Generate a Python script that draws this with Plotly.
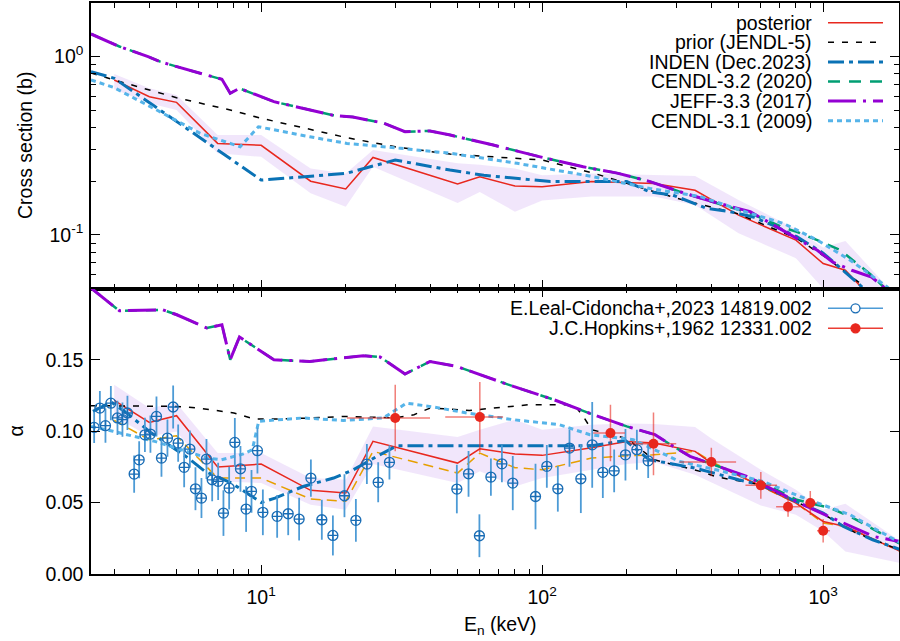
import plotly.graph_objects as go
import numpy as np

# ---------------- DATA ----------------
# top panel: cross section (b)
E_post_top = [3, 4, 5, 7, 10, 15, 20, 25, 50, 60, 80, 100, 150, 200, 250, 350, 500, 800, 1000, 1200, 1800]
post_top = [0.740, 0.596, 0.554, 0.326, 0.318, 0.200, 0.181, 0.272, 0.193, 0.212, 0.188, 0.186, 0.199, 0.197,
            0.194, 0.178, 0.129, 0.0934, 0.069, 0.0633, 0.032]
band_top_hi = [0.80, 0.665, 0.609, 0.363, 0.363, 0.236, 0.221, 0.299, 0.252, 0.247, 0.236, 0.216, 0.221, 0.218,
               0.216, 0.214, 0.157, 0.108, 0.085, 0.0925, 0.046]
band_top_lo = [0.656, 0.547, 0.502, 0.287, 0.274, 0.171, 0.144, 0.241, 0.151, 0.174, 0.135, 0.156, 0.164, 0.164,
               0.164, 0.147, 0.102, 0.074, 0.050, 0.045, 0.025]

E_prior_top = [2.48, 3, 5, 7.76, 10, 15, 20, 30, 47, 100, 152, 200, 240, 336, 493, 805, 1033, 1355, 1900]
prior_top = [0.81, 0.74, 0.588, 0.502, 0.451, 0.388, 0.352, 0.312, 0.284, 0.263, 0.222, 0.195, 0.178, 0.153,
             0.132, 0.0956, 0.0739, 0.0534, 0.030]

E_inden_top = [2.48, 3, 10, 20, 30, 47, 62, 107, 200, 242, 292, 385, 466, 564, 664, 805, 1000, 1180, 1376, 1900]
inden_top = [0.824, 0.756, 0.203, 0.221, 0.263, 0.231, 0.216, 0.199, 0.199, 0.174, 0.167, 0.141, 0.135, 0.126,
             0.113, 0.0977, 0.079, 0.0633, 0.051, 0.030]

E_jeff_top = [2.48, 3.13, 3.96, 4.37, 5.01, 7.25, 7.76, 8.37, 11.1, 14.9, 18, 21.2, 27.2, 32.5, 39.9, 47.1, 67,
              98.4, 140, 185, 242, 318, 420, 550, 721, 805, 953, 1077, 1264, 1487, 1640, 1900]
jeff_top = [1.34, 1.14, 1.0, 0.937, 0.879, 0.746, 0.623, 0.664, 0.559, 0.501, 0.469, 0.458, 0.424, 0.379, 0.383,
            0.363, 0.319, 0.274, 0.241, 0.222, 0.199, 0.172, 0.151, 0.135, 0.106, 0.0956, 0.082, 0.0706, 0.0633,
            0.058, 0.051, 0.044]

E_c32_top = [2.48, 3.13, 3.96, 4.37, 5.01, 7.25, 7.76, 8.37, 11.1, 14.9, 18, 21.2, 27.2, 32.5, 39.9, 47.1, 67,
             98.4, 140, 185, 242, 318, 420, 550, 721, 805, 953, 1150, 1320, 1487, 1640, 1900]
c32_top = [1.34, 1.14, 1.0, 0.937, 0.879, 0.746, 0.623, 0.664, 0.559, 0.501, 0.469, 0.458, 0.424, 0.379, 0.383,
           0.363, 0.319, 0.274, 0.241, 0.222, 0.199, 0.172, 0.151, 0.132, 0.110, 0.104, 0.0934, 0.0821, 0.069,
           0.0594, 0.051, 0.040]

E_c31_top = [2.48, 2.98, 4.14, 6.07, 8.42, 9.78, 14.9, 20.2, 31.3, 47.1, 81.5, 152, 242, 365, 550, 721, 953,
             1248, 1690, 1900]
c31_top = [0.74, 0.673, 0.513, 0.371, 0.312, 0.404, 0.355, 0.326, 0.306, 0.287, 0.252, 0.212, 0.182, 0.164,
           0.132, 0.116, 0.0934, 0.0721, 0.051, 0.043]

# bottom panel: alpha
E_post_bot = [3, 4, 5, 7, 10, 15, 20, 25, 50, 60, 80, 100, 150, 200, 250, 350, 400, 600, 800, 1000, 1200, 1900]
post_bot = [0.1216, 0.1062, 0.1109, 0.0749, 0.0770, 0.0586, 0.0567, 0.0929, 0.0777, 0.0877, 0.0840, 0.0831,
            0.0885, 0.0929, 0.0917, 0.0859, 0.0777, 0.0618, 0.0497, 0.0368, 0.0333, 0.0155]
band_bot_hi = [0.1326, 0.1162, 0.1197, 0.0847, 0.0847, 0.0672, 0.0660, 0.1034, 0.0960, 0.1011, 0.1081, 0.1010,
               0.1046, 0.1055, 0.1050, 0.1029, 0.0950, 0.0730, 0.0590, 0.0450, 0.0492, 0.0225]
band_bot_lo = [0.1104, 0.0964, 0.0999, 0.0649, 0.0637, 0.0485, 0.0450, 0.0770, 0.0637, 0.0719, 0.0613, 0.0672,
               0.0730, 0.0770, 0.0785, 0.0695, 0.0640, 0.0480, 0.0415, 0.0300, 0.0158, 0.0075]
orange_bot = [0.1076, 0.0940, 0.0968, 0.0672, 0.0672, 0.0525, 0.0509, 0.0859, 0.0707, 0.0847, 0.0745, 0.0730,
              0.0812, 0.0828, 0.0835, 0.0859, 0.0789, 0.0613, 0.0497, 0.0357, 0.0333, 0.0155]

E_prior_bot = [2.48, 5, 6, 8, 9.5, 11.5, 15, 20, 30, 35, 40, 55, 90, 130, 140, 150, 200, 250, 365, 420, 600, 800,
               1000, 1300, 1900]
prior_bot = [0.1179, 0.1174, 0.1162, 0.1128, 0.1085, 0.1085, 0.1093, 0.1104, 0.1093, 0.1116, 0.1163, 0.1146,
             0.1186, 0.1186, 0.1104, 0.1011, 0.0950, 0.0800, 0.0719, 0.0679, 0.0625, 0.0505, 0.0420, 0.0290, 0.0165]

E_inden_bot = [2.52, 2.93, 3.32, 4.07, 5.5, 6.31, 7.84, 10.0, 11.2, 14.1, 18.1, 21.3, 25.8, 30.4, 150, 198, 240,
               300, 350, 400, 500, 600, 800, 1000, 1180, 1500, 1900]
inden_bot = [0.1139, 0.1205, 0.1128, 0.0987, 0.0812, 0.0719, 0.0637, 0.0501, 0.0532, 0.0613, 0.0672, 0.0730,
             0.0824, 0.0898, 0.0898, 0.0935, 0.0801, 0.0765, 0.0742, 0.0712, 0.0660, 0.0625, 0.0508, 0.0427,
             0.0333, 0.0240, 0.0168]

E_jeff_bot = [2.48, 3.13, 4.46, 5.01, 6.41, 7.25, 7.76, 8.37, 11.1, 14.9, 23.1, 26.5, 32.5, 39.9, 49.7, 60, 79,
              110, 122, 152, 200, 252, 293, 336, 441, 535, 665, 875, 1149, 1510, 1900]
jeff_bot = [0.2003, 0.1844, 0.1851, 0.1816, 0.1723, 0.1746, 0.1501, 0.1660, 0.1501, 0.1489, 0.1529, 0.1520,
            0.1401, 0.1489, 0.1454, 0.1396, 0.1314, 0.1221, 0.1186, 0.1116, 0.1034, 0.0976, 0.0894, 0.0824,
            0.0742, 0.0684, 0.0590, 0.0473, 0.0368, 0.0263, 0.0225]

E_c32_bot = [2.48, 3.13, 4.46, 5.01, 6.41, 7.25, 7.76, 8.37, 11.1, 14.9, 23.1, 26.5, 32.5, 39.9, 49.7, 60, 79,
             110, 122, 152, 200, 252, 293, 336, 441, 609, 805, 1060, 1280, 1600, 1900]
c32_bot = [0.2003, 0.1844, 0.1851, 0.1816, 0.1723, 0.1746, 0.1501, 0.1660, 0.1501, 0.1489, 0.1529, 0.1520,
           0.1401, 0.1489, 0.1454, 0.1396, 0.1314, 0.1221, 0.1186, 0.1116, 0.1034, 0.0976, 0.0894, 0.0824,
           0.0742, 0.0637, 0.0520, 0.0462, 0.0392, 0.0287, 0.0205]

E_c31_bot = [2.48, 2.97, 4.18, 6.47, 7.22, 8.6, 9.3, 9.8, 14.1, 19.6, 27.2, 32.9, 41.1, 53.9, 79, 115, 148, 211,
             308, 416, 609, 828, 1033, 1248, 1510, 1900]
c31_bot = [0.1034, 0.1000, 0.0929, 0.0812, 0.0800, 0.0840, 0.0870, 0.1070, 0.1093, 0.1076, 0.1093, 0.1197,
           0.1170, 0.1128, 0.1081, 0.1046, 0.0976, 0.0941, 0.0789, 0.0730, 0.0649, 0.0543, 0.0473, 0.0415,
           0.0322, 0.0215]

# experimental data
leal_E = [2.545, 2.667, 2.792, 2.918, 3.081, 3.209, 3.343, 3.532, 3.680, 3.857, 4.036, 4.241, 4.418, 4.640,
          4.862, 5.066, 5.321, 5.576, 5.837, 6.131, 6.388, 6.694, 7.030, 7.342, 7.693, 8.06, 8.44, 8.84, 9.24,
          9.70, 10.14, 11.40, 12.48, 13.65, 15.03, 16.44, 18.00, 19.79, 21.73, 23.78, 26.09, 28.61, 49.7, 54.7,
          59.8, 65.7, 71.9, 78.6, 94.7, 103.9, 113.7, 125.1, 137.3, 150.7, 164.4, 180.4, 197.9, 217.3, 238.4]
leal_a = [0.1027, 0.1162, 0.1039, 0.1197, 0.1093, 0.1081, 0.1128, 0.0700, 0.0800, 0.0975, 0.0980, 0.1104,
          0.0812, 0.0952, 0.1170, 0.0917, 0.0747, 0.0875, 0.0597, 0.0532, 0.0805, 0.0660, 0.0649, 0.0427,
          0.0602, 0.0922, 0.0737, 0.0455, 0.0579, 0.0864, 0.0432, 0.0404, 0.0422, 0.0385, 0.0672, 0.0380,
          0.0270, 0.0548, 0.0376, 0.0770, 0.0642, 0.0782, 0.0595, 0.0702, 0.0268, 0.0679, 0.0772, 0.0637,
          0.0543, 0.0754, 0.0597, 0.0882, 0.0667, 0.0905, 0.0712, 0.0723, 0.0835, 0.0871, 0.0793]
leal_err = [0.011, 0.012, 0.012, 0.012, 0.012, 0.012, 0.012, 0.013, 0.013, 0.012, 0.013, 0.014, 0.013, 0.013,
            0.015, 0.013, 0.014, 0.013, 0.015, 0.014, 0.014, 0.015, 0.013, 0.016, 0.015, 0.017, 0.016, 0.016,
            0.015, 0.016, 0.016, 0.015, 0.015, 0.015, 0.013, 0.014, 0.014, 0.015, 0.015, 0.014, 0.014, 0.012,
            0.017, 0.016, 0.015, 0.013, 0.013, 0.019, 0.023, 0.015, 0.016, 0.013, 0.024, 0.030, 0.018, 0.015,
            0.018, 0.014, 0.012]

hop_E = [30, 60, 175, 249, 400, 600, 750, 900, 1000]
hop_a = [0.1093, 0.1100, 0.0987, 0.0912, 0.0784, 0.0621, 0.0471, 0.0497, 0.0303]
hop_err = [0.0233, 0.0245, 0.0198, 0.0220, 0.0100, 0.0093, 0.0070, 0.0084, 0.0082]
hop_Eplus = [9.9, 12.6, 22, 51, 90, 85, 76, 50, 56]
hop_Eminus = [9.8, 14.8, 23, 44, 91, 71, 70, 34, 49]

legend_top = ["posterior", "prior (JENDL-5)", "INDEN (Dec.2023)", "CENDL-3.2 (2020)", "JEFF-3.3 (2017)",
              "CENDL-3.1 (2009)"]
legend_bot = ["E.Leal-Cidoncha+,2023 14819.002", "J.C.Hopkins+,1962 12331.002"]

# ---------------- STYLE ----------------
FONT = "Liberation Sans, Arial, sans-serif"
FS = 19.5
C_RED = "#e8281e"
C_BLK = "#000000"
C_IND = "#0a72b5"
C_GRN = "#009e73"
C_PUR = "#9400d3"
C_SKY = "#56b4e9"
C_ORG = "#e69f00"
C_BAND = "rgba(190,140,235,0.22)"

st_post = dict(color=C_RED, width=1.5)
st_prior = dict(color=C_BLK, width=1.5, dash="6px,8px")
st_ind = dict(color=C_IND, width=3, dash="16px,5px,4px,5px")
st_c32 = dict(color=C_GRN, width=2.5, dash="12px,9px")
st_jeff = dict(color=C_PUR, width=3, dash="28px,7px,3px,7px")
st_c31 = dict(color=C_SKY, width=3, dash="5px,4px")
st_org = dict(color=C_ORG, width=1.5, dash="10px,6px")

L, R, T, B = 91, 899, 3, 574
W, H = 900, 641

fig = go.Figure()


def band(E, lo, hi, xa, ya):
    fig.add_trace(go.Scatter(x=list(E) + list(E)[::-1], y=list(hi) + list(lo)[::-1], fill="toself",
                             fillcolor=C_BAND, line=dict(width=0), mode="lines", hoverinfo="skip",
                             showlegend=False, xaxis=xa, yaxis=ya))


def line(E, v, st, xa, ya):
    fig.add_trace(go.Scatter(x=E, y=v, mode="lines", line=st, showlegend=False, xaxis=xa, yaxis=ya))


# top panel
band(E_post_top, band_top_lo, band_top_hi, "x", "y")
line(E_post_top, post_top, st_post, "x", "y")
line(E_prior_top, prior_top, st_prior, "x", "y")
line(E_inden_top, inden_top, st_ind, "x", "y")
line(E_c32_top, c32_top, st_c32, "x", "y")
line(E_jeff_top, jeff_top, st_jeff, "x", "y")
line(E_c31_top, c31_top, st_c31, "x", "y")

# bottom panel
band(E_post_bot, band_bot_lo, band_bot_hi, "x2", "y2")
line(E_post_bot, orange_bot, st_org, "x2", "y2")
line(E_post_bot, post_bot, st_post, "x2", "y2")
line(E_prior_bot, prior_bot, st_prior, "x2", "y2")
line(E_inden_bot, inden_bot, st_ind, "x2", "y2")
line(E_c32_bot, c32_bot, st_c32, "x2", "y2")
line(E_jeff_bot, jeff_bot, st_jeff, "x2", "y2")
line(E_c31_bot, c31_bot, st_c31, "x2", "y2")

fig.add_trace(go.Scatter(x=leal_E, y=leal_a, mode="markers", xaxis="x2", yaxis="y2", showlegend=False,
                         marker=dict(symbol="circle-cross-open", size=10, color="#1a6db5",
                                     line=dict(width=1.3, color="#1a6db5")),
                         error_y=dict(type="data", array=leal_err, color="#4d9bd6", thickness=1.8, width=0)))
fig.add_trace(go.Scatter(x=hop_E, y=hop_a, mode="markers", xaxis="x2", yaxis="y2", showlegend=False,
                         marker=dict(symbol="circle", size=10, color=C_RED),
                         error_y=dict(type="data", array=hop_err, color="rgba(232,40,30,0.6)", thickness=1.5,
                                      width=0),
                         error_x=dict(type="data", symmetric=False, array=hop_Eplus, arrayminus=hop_Eminus,
                                      color="rgba(232,40,30,0.6)", thickness=1.5, width=0)))

# ---------------- AXES ----------------
xmin = np.log10(2.48)
xmax = xmin + (R - L) / 281.0
minor_x = [v * d for d in (1, 10, 100) for v in range(2, 10) if 2.48 <= v * d <= 1900]
minor_y_top = [0.06, 0.07, 0.08, 0.09] + [0.1 * k for k in range(2, 10)] + [2.0]

common_ax = dict(showline=True, linecolor="black", linewidth=1.5, mirror="ticks", ticks="inside",
                 tickcolor="black", tickwidth=1, showgrid=False, zeroline=False, automargin=False,
                 tickfont=dict(family=FONT, size=FS, color="black"))

fig.update_layout(
    width=W, height=H, plot_bgcolor="white", paper_bgcolor="white",
    margin=dict(l=L, r=W - R, t=T, b=H - B, pad=0, autoexpand=False),
    showlegend=False,
    font=dict(family=FONT, size=FS, color="black"),
    xaxis=dict(type="log", range=[xmin, xmax], domain=[0, 1], anchor="y", matches="x2",
               tickvals=[10, 100, 1000], showticklabels=False, ticklen=9,
               minor=dict(tickvals=minor_x, ticks="inside", ticklen=5, tickcolor="black"), **common_ax),
    xaxis2=dict(type="log", range=[xmin, xmax], domain=[0, 1], anchor="y2",
                tickvals=[10, 100, 1000], ticktext=["10<sup>1</sup>", "10<sup>2</sup>", "10<sup>3</sup>"],
                ticklen=9, ticklabelstandoff=5,
                minor=dict(tickvals=minor_x, ticks="inside", ticklen=5, tickcolor="black"),
                **common_ax),
    yaxis=dict(type="log", range=[np.log10(0.05), np.log10(2.0)], domain=[0.5, 1], anchor="x",
               tickvals=[0.1, 1.0], ticktext=["10<sup>-1</sup>", "10<sup>0</sup>"], ticklen=9,
               ticklabelstandoff=2,
               minor=dict(tickvals=minor_y_top, ticks="inside", ticklen=5, tickcolor="black"), **common_ax),
    yaxis2=dict(range=[0, 0.2], domain=[0, 0.5], anchor="x2", tickvals=[0, 0.05, 0.10, 0.15],
                ticktext=["0.00", "0.05", "0.10", "0.15"], ticklen=9, ticklabelstandoff=2, **common_ax),
)


def px(xp):
    return (xp - L) / (R - L)


def py(yp):
    return (B - yp) / (B - T)


ann = []
shapes = []
# axis titles
ann.append(dict(text="Cross section (b)", x=px(25), y=py(146), xref="paper", yref="paper", textangle=-90,
                showarrow=False, xanchor="center", yanchor="middle", font=dict(family=FONT, size=FS)))
ann.append(dict(text="α", x=px(15.5), y=py(431), xref="paper", yref="paper", textangle=-90,
                showarrow=False, xanchor="center", yanchor="middle", font=dict(family=FONT, size=FS)))
ann.append(dict(text="E<sub>n</sub> (keV)", x=px(500), y=py(611), xref="paper", yref="paper",
                showarrow=False, xanchor="center", yanchor="top", font=dict(family=FONT, size=FS)))

# top legend
styles = [st_post, st_prior, st_ind, st_c32, st_jeff, st_c31]
for i, (lab, st) in enumerate(zip(legend_top, styles)):
    yy = 22.7 + i * 19.6
    ann.append(dict(text=lab, x=px(814), y=py(yy), xref="paper", yref="paper", showarrow=False,
                    xanchor="right", yanchor="middle", font=dict(family=FONT, size=FS)))
    shapes.append(dict(type="line", xref="paper", yref="paper", x0=px(828), x1=px(883), y0=py(yy), y1=py(yy),
                       line=dict(color=st["color"], width=st["width"], dash=st.get("dash", "solid"))))

# bottom legend
leg_cols = [("#4d9bd6", "#1a6db5", False), ("rgba(232,40,30,0.9)", C_RED, True)]
for i, (lab, (lc, mc, filled)) in enumerate(zip(legend_bot, leg_cols)):
    yy = 308.3 + i * 20.0
    ann.append(dict(text=lab, x=px(814), y=py(yy), xref="paper", yref="paper", showarrow=False,
                    xanchor="right", yanchor="middle", font=dict(family=FONT, size=FS)))
    shapes.append(dict(type="line", xref="paper", yref="paper", x0=px(828), x1=px(883), y0=py(yy), y1=py(yy),
                       line=dict(color=lc, width=1.5)))
    shapes.append(dict(type="circle", xref="paper", yref="paper", xsizemode="pixel", ysizemode="pixel",
                       xanchor=px(855.5), yanchor=py(yy), x0=-4.5, x1=4.5, y0=-4.5, y1=4.5,
                       line=dict(color=mc, width=1.3), fillcolor=mc if filled else "white"))

fig.update_layout(annotations=ann, shapes=shapes)
fig.write_html("out.html", config={"displayModeBar": False},
               post_script="document.body.style.margin='0px';document.body.style.padding='0px';")
